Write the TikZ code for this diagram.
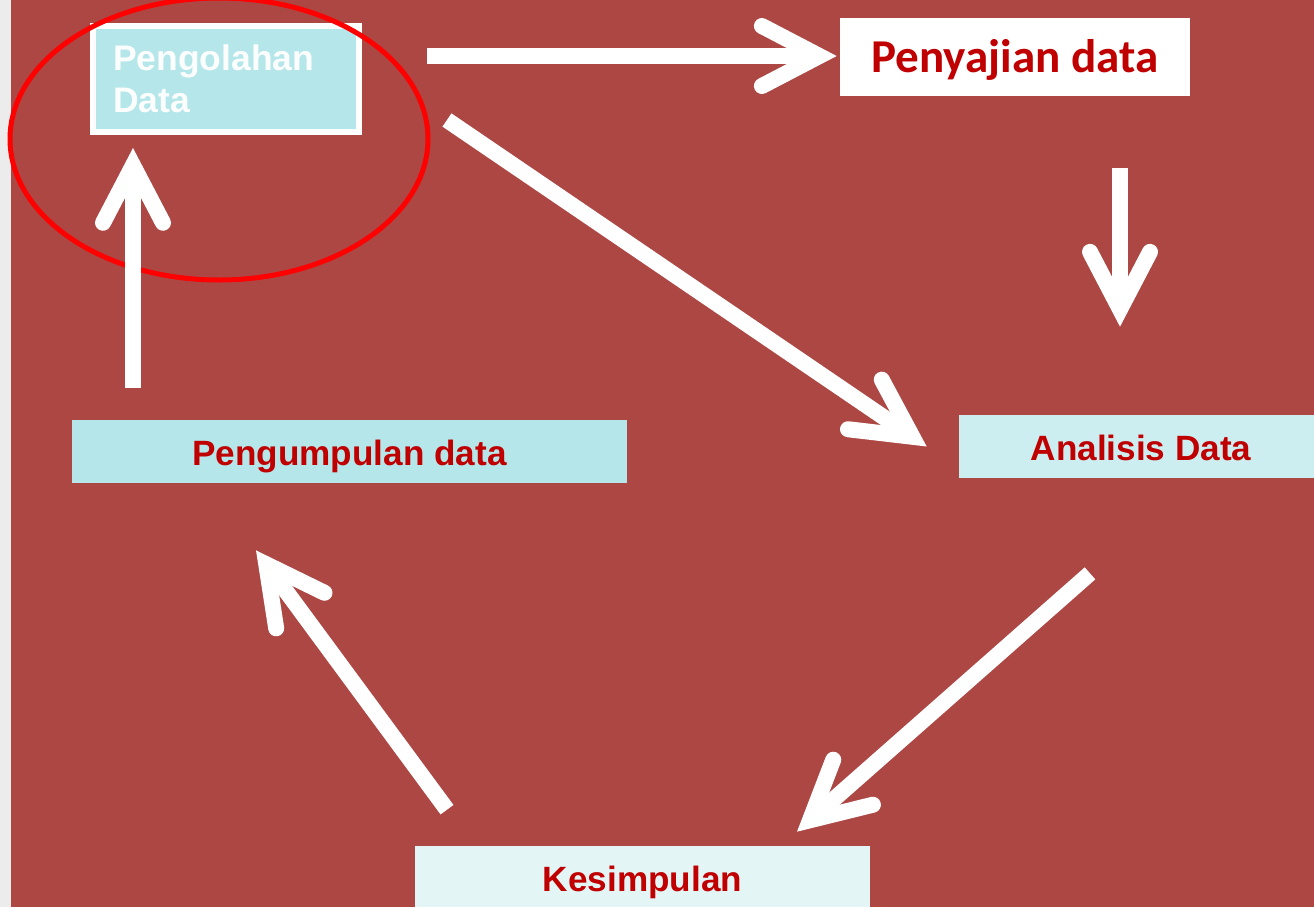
\documentclass[tikz,border=0pt]{standalone}
\usepackage{fontspec}
\setmainfont{Liberation Sans}
\newfontfamily\calibri{Carlito}
\usetikzlibrary{arrows.meta, calc}

\definecolor{slidered}{RGB}{173,71,68}
\definecolor{textred}{RGB}{192,0,0}
\definecolor{cyanA}{RGB}{181,230,234}
\definecolor{cyanB}{RGB}{205,238,241}
\definecolor{cyanC}{RGB}{228,245,246}

\begin{document}
\begin{tikzpicture}[
    x=0.02cm, y=-0.02cm,
    box/.style={rectangle, inner sep=0pt, text=textred, font=\bfseries\fontsize{20}{24}\selectfont},
    band/.style={box, text height=0.54cm, text depth=0pt},
    flow/.style={white, line width=0.32cm, -{Straight Barb[length=1.15cm, width=1.2cm, line cap=round, line join=miter]}}
]
\useasboundingbox (0,0) rectangle (1314,907);

% Slide background
\fill[slidered] (0,0) rectangle (1314,907);
\fill[gray!15] (0,0) rectangle (11,907);

% Boxes
\node[box, draw=white, line width=0.12cm, fill=cyanA, minimum width=5.32cm, minimum height=2.12cm,
      text=white!96!cyanA, align=left, text width=4.52cm, font=\bfseries\fontsize{20.2}{23.8}\selectfont] (olah) at (226,79) {Pengolahan\\Data};
\node[band, fill=white, minimum width=7.0cm, minimum height=1.56cm, text height=0.62cm,
      font=\calibri\bfseries\fontsize{26.8}{30}\selectfont] (saji) at (1015,57) {Penyajian data};
\node[band, fill=cyanB, minimum width=7.1cm, minimum height=1.26cm] (ana) at (1136.5,446.5) {\hspace{0.18cm}Analisis Data};
\node[band, fill=cyanA, minimum width=11.1cm, minimum height=1.26cm] (kumpul) at (349.5,451.5) {Pengumpulan data};
\node[band, fill=cyanC, minimum width=9.1cm, minimum height=1.22cm, text height=0.58cm] (simpul) at (642.5,876.5) {Kesimpulan};

% Highlight round the first step
\draw[red, line width=0.1cm] (219,139) ellipse [x radius=209, y radius=141];

% Flow of the cycle
\draw[flow] ([shift={(65,-23)}]olah.east) -- ([shift={(-3,-1)}]saji.west);
\draw[flow] ([shift={(85,41)}]olah.east) -- ([shift={(-32,0)}]ana.west);
\draw[flow] ([shift={(105,72)}]saji.south) -- ([shift={(-16.5,-88)}]ana.north);
\draw[flow] ([shift={(-46.5,95)}]ana.south) -- ([shift={(154.5,-14)}]simpul.north);
\draw[flow] ([shift={(-195.5,-36)}]simpul.north) -- ([shift={(-93.5,67)}]kumpul.south);
\draw[flow] ([shift={(-216.5,-32)}]kumpul.north) -- ([shift={(-93,13)}]olah.south);

\end{tikzpicture}
\end{document}
